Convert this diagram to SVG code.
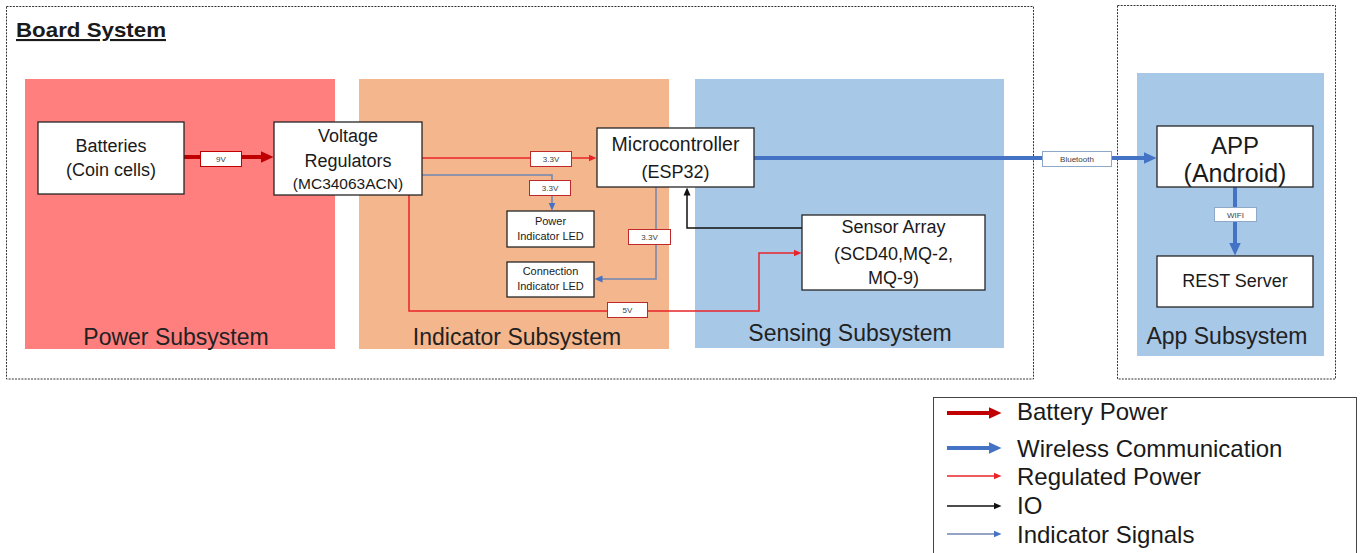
<svg xmlns="http://www.w3.org/2000/svg" width="1364" height="553" viewBox="0 0 1364 553">
  <style>
    text { font-family: "Liberation Sans", Arial, sans-serif; fill: #1a1a1a; }
    .frame { fill: none; stroke: #333; stroke-width: 1; stroke-dasharray: 2 1.2; }
    .node { fill: #fff; stroke: #262626; stroke-width: 1.3; }
    .nt { font-size: 18px; text-anchor: middle; }
    .st { font-size: 23px; text-anchor: middle; fill: #222; }
    .small { font-size: 11px; text-anchor: middle; }
    .lbl { fill: #fff; stroke-width: 1; }
    .lt { font-size: 8px; text-anchor: middle; fill: #404040; }
    .leg { font-size: 24px; }
    .bat { fill: none; stroke: #C00000; stroke-width: 4; }
    .wl { fill: none; stroke: #4472C4; stroke-width: 4; }
    .reg { fill: none; stroke: #E8242A; stroke-width: 1.5; }
    .io { fill: none; stroke: #111; stroke-width: 1.5; }
    .ind { fill: none; stroke: #6F86B2; stroke-width: 1.5; }
  </style>
  <defs>
    <marker id="mBat" markerUnits="userSpaceOnUse" markerWidth="14" markerHeight="12" refX="0.5" refY="6" orient="auto">
      <path d="M0,0 L13,6 L0,12 Z" fill="#C00000"/>
    </marker>
    <marker id="mWl" markerUnits="userSpaceOnUse" markerWidth="14" markerHeight="12" refX="0.5" refY="6" orient="auto">
      <path d="M0,0 L13,6 L0,12 Z" fill="#4472C4"/>
    </marker>
    <marker id="mReg" markerUnits="userSpaceOnUse" markerWidth="9" markerHeight="8" refX="0.5" refY="4" orient="auto">
      <path d="M0,0.5 L8,4 L0,7.5 Z" fill="#E8242A"/>
    </marker>
    <marker id="mIo" markerUnits="userSpaceOnUse" markerWidth="9" markerHeight="8" refX="0.5" refY="4" orient="auto">
      <path d="M0,0.5 L8,4 L0,7.5 Z" fill="#111"/>
    </marker>
    <marker id="mInd" markerUnits="userSpaceOnUse" markerWidth="9" markerHeight="8" refX="0.5" refY="4" orient="auto">
      <path d="M0,0.5 L8,4 L0,7.5 Z" fill="#4472C4"/>
    </marker>
  </defs>

  <rect width="1364" height="553" fill="#fff"/>

  <!-- outer frames -->
  <g id="board-system">
    <rect class="frame" x="6.5" y="6.5" width="1027" height="372.5"/>
    <text x="16" y="37" font-size="21" font-weight="bold" text-decoration="underline" textLength="150" lengthAdjust="spacingAndGlyphs">Board System</text>
  </g>
  <g id="app-system">
    <rect class="frame" x="1117.5" y="5.5" width="218" height="373.5"/>
  </g>

  <!-- subsystem panels -->
  <g id="power-subsystem">
    <rect x="25" y="79" width="310" height="270" fill="#FF7F7F"/>
    <text class="st" x="176" y="345">Power Subsystem</text>
  </g>
  <g id="indicator-subsystem">
    <rect x="359" y="79" width="310" height="270" fill="#F4B68C"/>
    <text class="st" x="517" y="345">Indicator Subsystem</text>
  </g>
  <g id="sensing-subsystem">
    <rect x="695" y="79" width="309" height="269" fill="#A8C8E8"/>
    <text class="st" x="850" y="341">Sensing Subsystem</text>
  </g>
  <g id="app-subsystem">
    <rect x="1137" y="73" width="187" height="283" fill="#A8C8E8"/>
    <text class="st" x="1227" y="344">App Subsystem</text>
  </g>

  <!-- connectors -->
  <g id="connectors">
    <path class="bat" d="M184,157 H261" marker-end="url(#mBat)"/>
    <path class="reg" d="M422,158 H589" marker-end="url(#mReg)"/>
    <path class="ind" d="M422,175 H552 V203" marker-end="url(#mInd)"/>
    <path class="ind" d="M656,187 V279 H602" marker-end="url(#mInd)"/>
    <path class="reg" d="M409,195 V311 H759 V253 H794" marker-end="url(#mReg)"/>
    <path class="io" d="M802,228 H687 V195" marker-end="url(#mIo)"/>
    <path class="wl" d="M754,158 H1144" marker-end="url(#mWl)"/>
    <path class="wl" d="M1235,187 V243" marker-end="url(#mWl)"/>

    <!-- connector labels -->
    <rect class="lbl" x="200.5" y="151.5" width="41" height="15" stroke="#C00000"/>
    <text class="lt" x="221" y="162">9V</text>
    <rect class="lbl" x="530.5" y="151.5" width="41" height="15" stroke="#C0282A"/>
    <text class="lt" x="551" y="162">3.3V</text>
    <rect class="lbl" x="529.5" y="180.5" width="41" height="15" stroke="#C0282A"/>
    <text class="lt" x="550" y="191">3.3V</text>
    <rect class="lbl" x="628.5" y="229.5" width="42" height="15" stroke="#C0282A"/>
    <text class="lt" x="649.5" y="240">3.3V</text>
    <rect class="lbl" x="607.5" y="302.5" width="40" height="15" stroke="#C0282A"/>
    <text class="lt" x="627.5" y="313">5V</text>
    <rect class="lbl" x="1042.5" y="151.5" width="69" height="15" stroke="#8EA9C8"/>
    <text class="lt" x="1077" y="162">Bluetooth</text>
    <rect class="lbl" x="1214.5" y="207.5" width="42" height="14" stroke="#8EA9C8"/>
    <text class="lt" x="1235.5" y="217.5">WIFI</text>
  </g>

  <!-- nodes -->
  <g id="batteries">
    <rect class="node" x="38" y="122" width="146" height="72"/>
    <text class="nt" x="111" y="152">Batteries</text>
    <text class="nt" x="111" y="176">(Coin cells)</text>
  </g>
  <g id="voltage-regulators">
    <rect class="node" x="274" y="122" width="148" height="73"/>
    <text class="nt" x="348" y="142">Voltage</text>
    <text class="nt" x="348" y="167">Regulators</text>
    <text class="nt" x="348" y="189" style="font-size:15.5px">(MC34063ACN)</text>
  </g>
  <g id="microcontroller">
    <rect class="node" x="597" y="128" width="157" height="59"/>
    <text class="nt" x="675.5" y="151" style="font-size:19.5px">Microcontroller</text>
    <text class="nt" x="675.5" y="178">(ESP32)</text>
  </g>
  <g id="power-indicator-led">
    <rect class="node" x="507" y="211" width="87" height="36" stroke="#B02020"/>
    <text class="small" x="550.5" y="225">Power</text>
    <text class="small" x="550.5" y="240">Indicator LED</text>
  </g>
  <g id="connection-indicator-led">
    <rect class="node" x="507" y="262" width="87" height="35" stroke="#B02020"/>
    <text class="small" x="550.5" y="275">Connection</text>
    <text class="small" x="550.5" y="290">Indicator LED</text>
  </g>
  <g id="sensor-array">
    <rect class="node" x="802" y="215" width="183" height="75"/>
    <text class="nt" x="893.5" y="233">Sensor Array</text>
    <text class="nt" x="893.5" y="260">(SCD40,MQ-2,</text>
    <text class="nt" x="893.5" y="284">MQ-9)</text>
  </g>
  <g id="app">
    <rect class="node" x="1157" y="126" width="156" height="61"/>
    <text class="nt" x="1235" y="154" style="font-size:24px">APP</text>
    <text class="nt" x="1235" y="182" style="font-size:25px">(Android)</text>
  </g>
  <g id="rest-server">
    <rect class="node" x="1157" y="256" width="156" height="51"/>
    <text class="nt" x="1235" y="287">REST Server</text>
  </g>

  <!-- legend -->
  <g id="legend">
    <rect x="933.5" y="397.5" width="423" height="170" fill="#fff" stroke="#444" stroke-width="1"/>
    <path class="bat" d="M947,413 H989" marker-end="url(#mBat)"/>
    <text class="leg" x="1017" y="420">Battery Power</text>
    <path class="wl" d="M947,448 H989" marker-end="url(#mWl)"/>
    <text class="leg" x="1017" y="457">Wireless Communication</text>
    <path class="reg" d="M947,476 H994" marker-end="url(#mReg)"/>
    <text class="leg" x="1017" y="485">Regulated Power</text>
    <path class="io" d="M947,506 H994" marker-end="url(#mIo)"/>
    <text class="leg" x="1017" y="514">IO</text>
    <path class="ind" d="M947,534 H994" marker-end="url(#mInd)"/>
    <text class="leg" x="1017" y="543">Indicator Signals</text>
  </g>
</svg>
